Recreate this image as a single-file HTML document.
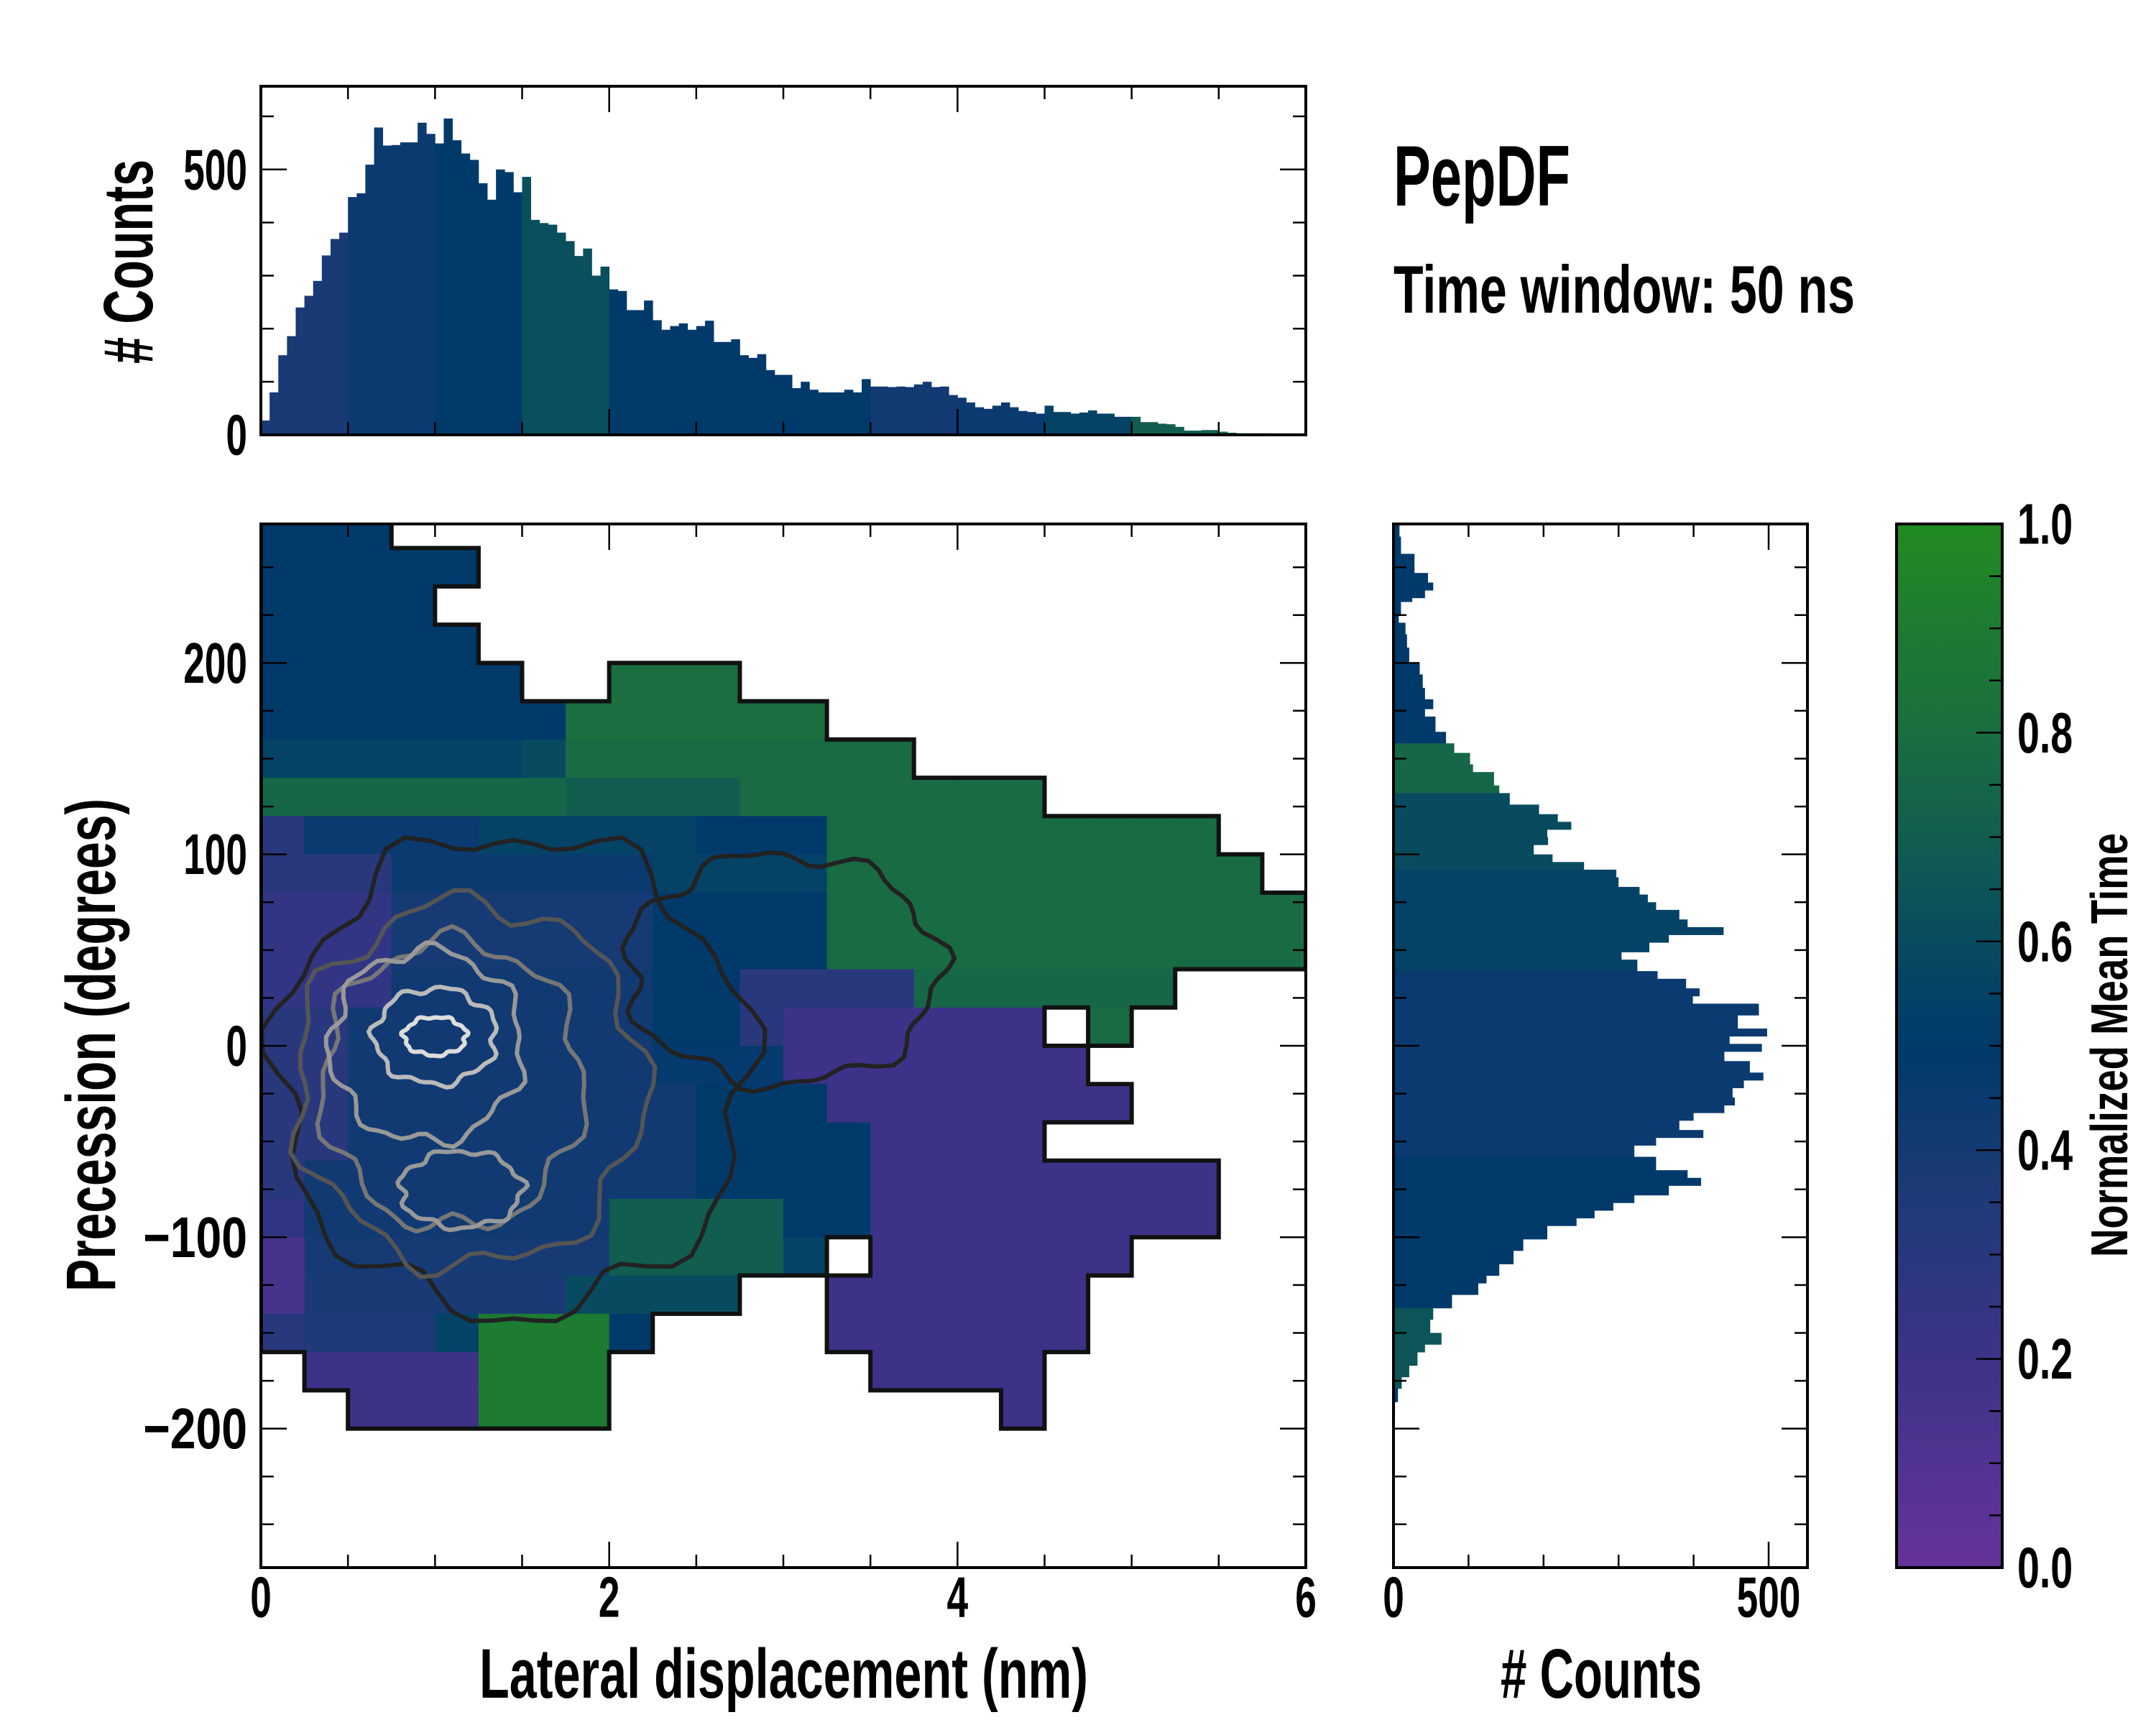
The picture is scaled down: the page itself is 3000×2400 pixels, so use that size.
<!DOCTYPE html>
<html><head><meta charset="utf-8"><title>PepDF</title>
<style>
html,body{margin:0;padding:0;background:#fff;}
svg{display:block;}
text{font-family:"Liberation Sans Narrow","Liberation Sans",sans-serif;font-weight:bold;fill:#000;}
</style></head>
<body>
<svg id="fig" xmlns="http://www.w3.org/2000/svg" width="3000" height="2400" viewBox="0 0 3000 2400">
<rect width="3000" height="2400" fill="#fff"/>
<defs>
<clipPath id="mainClip"><rect x="363" y="729" width="1454" height="1452"/></clipPath>
<linearGradient id="cbGrad" x1="0" y1="1" x2="0" y2="0">
<stop offset="0" stop-color="#663399"/><stop offset="0.2" stop-color="#3c3388"/><stop offset="0.35" stop-color="#1f3a78"/><stop offset="0.5" stop-color="#003a6b"/><stop offset="0.6" stop-color="#084b60"/><stop offset="0.7" stop-color="#115e50"/><stop offset="0.8" stop-color="#1a6e3f"/><stop offset="0.9" stop-color="#1d7b32"/><stop offset="1" stop-color="#228b22"/>
</linearGradient>
</defs>
<g id="topHist"></g>
<g id="heat" clip-path="url(#mainClip)"></g>
<g id="rightHist"></g>
<rect x="2639" y="729" width="147" height="1452" fill="url(#cbGrad)" stroke="#000" stroke-width="4"/>
<g id="axes"></g>
<text x="1939" y="286" font-size="120" textLength="246" lengthAdjust="spacingAndGlyphs">PepDF</text>
<text x="1939" y="435" font-size="94" textLength="642" lengthAdjust="spacingAndGlyphs">Time window: 50 ns</text>
<text x="667" y="2362" font-size="97" textLength="847" lengthAdjust="spacingAndGlyphs">Lateral displacement (nm)</text>
<text x="2088" y="2362" font-size="97" textLength="280" lengthAdjust="spacingAndGlyphs"># Counts</text>
<text transform="translate(160,1454) rotate(-90)" text-anchor="middle" font-size="97" textLength="686" lengthAdjust="spacingAndGlyphs">Precession (degrees)</text>
<text transform="translate(212,364) rotate(-90)" text-anchor="middle" font-size="97" textLength="284" lengthAdjust="spacingAndGlyphs"># Counts</text>
<text transform="translate(2960,1454) rotate(-90)" text-anchor="middle" font-size="72" textLength="590" lengthAdjust="spacingAndGlyphs">Normalized Mean Time</text>
</svg>
<script>
// ---------- data ----------
const _ = null;
const heatYTop = 280, heatYStep = 20, heatXStep = 0.25;
const heatRows = [
[.5,.5,.5,_,_,_,_,_,_,_,_,_,_,_,_,_,_,_,_,_,_,_,_,_],
[.5,.5,.5,.5,.5,_,_,_,_,_,_,_,_,_,_,_,_,_,_,_,_,_,_,_],
[.5,.5,.5,.5,_,_,_,_,_,_,_,_,_,_,_,_,_,_,_,_,_,_,_,_],
[.5,.5,.5,.5,.5,_,_,_,_,_,_,_,_,_,_,_,_,_,_,_,_,_,_,_],
[.5,.5,.5,.5,.5,.5,_,_,.8,.8,.8,_,_,_,_,_,_,_,_,_,_,_,_,_],
[.5,.5,.5,.5,.5,.5,.5,.8,.8,.8,.8,.8,.8,_,_,_,_,_,_,_,_,_,_,_],
[.55,.55,.55,.55,.55,.55,.6,.78,.78,.78,.78,.78,.78,.78,.78,_,_,_,_,_,_,_,_,_],
[.75,.75,.75,.75,.75,.75,.75,.7,.7,.7,.7,.78,.78,.78,.78,.78,.78,.78,_,_,_,_,_,_],
[.3,.45,.45,.45,.45,.55,.55,.55,.55,.55,.5,.5,.5,.78,.78,.78,.78,.78,.78,.78,.78,.78,_,_],
[.3,.3,.3,.45,.45,.45,.45,.45,.45,.55,.55,.55,.55,.78,.78,.78,.78,.78,.78,.78,.78,.78,.78,_],
[.25,.25,.25,.4,.4,.4,.4,.4,.4,.5,.5,.5,.5,.78,.78,.78,.78,.78,.78,.78,.78,.78,.78,.78],
[.25,.25,.25,.4,.4,.4,.4,.4,.4,.5,.5,.5,.5,.78,.78,.78,.78,.78,.78,.78,.78,.78,.78,.78],
[.25,.25,.25,.42,.42,.42,.42,.42,.42,.5,.5,.3,.3,.3,.3,.75,.75,.75,.75,.75,.75,_,_,_],
[.3,.3,.42,.42,.42,.42,.42,.42,.42,.5,.5,.3,.2,.2,.2,.2,.2,.2,_,.78,_,_,_,_],
[.3,.3,.42,.42,.42,.42,.42,.42,.42,.48,.48,.48,.2,.2,.2,.2,.2,.2,.2,_,_,_,_,_],
[.3,.3,.42,.42,.42,.42,.42,.42,.42,.42,.5,.5,.5,.2,.2,.2,.2,.2,.2,.2,_,_,_,_],
[.3,.3,.42,.42,.42,.42,.42,.42,.42,.42,.5,.5,.5,.5,.2,.2,.2,.2,_,_,_,_,_,_],
[.3,.42,.42,.42,.42,.42,.42,.42,.42,.42,.5,.5,.5,.5,.2,.2,.2,.2,.2,.2,.2,.2,_,_],
[.25,.42,.42,.42,.42,.42,.42,.42,.7,.7,.7,.7,.5,.5,.2,.2,.2,.2,.2,.2,.2,.2,_,_],
[.15,.4,.4,.4,.4,.4,.4,.4,.7,.7,.7,.7,.55,_,.2,.2,.2,.2,.2,.2,_,_,_,_],
[.15,.38,.38,.38,.38,.38,.38,.6,.6,.6,.6,_,_,.2,.2,.2,.2,.2,.2,_,_,_,_,_],
[.3,.35,.35,.35,.55,.9,.9,.9,.5,_,_,_,_,.2,.2,.2,.2,.2,.2,_,_,_,_,_],
[_,.2,.2,.2,.2,.9,.9,.9,_,_,_,_,_,_,.2,.2,.2,.2,_,_,_,_,_,_],
[_,_,.2,.2,.2,.9,.9,.9,_,_,_,_,_,_,_,_,_,.2,_,_,_,_,_,_]
];
const topBinWidth = 0.05;
const topCounts = [27,80,150,186,240,262,290,338,369,381,448,455,509,579,545,546,551,551,588,567,549,596,555,530,518,474,443,500,495,457,486,405,399,396,381,365,337,351,300,317,274,271,235,235,253,216,198,205,210,198,205,215,175,175,180,150,145,152,122,113,113,88,100,85,80,80,80,85,80,105,91,91,90,91,90,95,100,90,91,75,70,61,52,49,55,61,52,45,43,40,55,43,43,40,42,46,40,40,34,34,34,24,24,21,20,15,8,8,9,9,6,4,3,3,3,3,2,1,0,0];
const topTime = [0.38,0.45,0.5,0.62,0.5,0.5,0.5,0.42,0.45,0.55,0.7,0.75];
const rightEdges = [272,266,262,257,247,242,238,234,232,225,221,215,208,200,194,187,181,176,172,164,158,153,147,143,136,132,126,121,117,113,109,105,100,96,92,88,83,79,75,71,66,62,58,54,49,45,39,35,30,26,22,16,9,5,1,-3,-8,-14,-18,-22,-27,-31,-35,-39,-44,-48,-52,-58,-65,-69,-73,-78,-82,-86,-90,-94,-101,-107,-114,-120,-124,-130,-137,-143,-150,-156,-160,-167,-173,-179,-186,-192,-196];
const rightCounts = [8,10,10,28,46,53,42,25,10,7,16,18,21,35,39,42,53,42,56,70,81,102,106,134,141,155,194,219,237,205,206,187,212,254,297,300,328,339,350,381,392,440,367,341,304,325,352,390,408,399,487,459,498,448,491,441,475,493,467,452,455,441,400,381,413,350,321,350,392,410,367,321,293,268,244,205,173,160,141,124,113,78,53,49,64,42,32,21,11,6,2];
const rightBandTop = [273,160,130,90,40,-60,-140,-180];
const rightBandTime = [0.5,0.75,0.6,0.55,0.45,0.5,0.65,0.5];
const ringCx = [1.45,3.0,1.2,1.1,0.95,1.0,1.0,1.15];
const ringCy = [-15,40,-20,-20,0,5,5,-75];
const ringRx = [1.35,0.9,1.0,0.75,0.55,0.35,0.18,0.35];
const ringRy = [125,60,95,75,50,25,10,20];
const ringShade = ['#222','#222','#555','#777','#999','#bbb','#ddd','#999'];
const mainXTicks = [0,2,4,6];
const mainYTicks = [-200,-100,0,100,200];
const topYTicks = [0,500];
const rightXTicks = [0,500];
const cbTicks = [0.0,0.2,0.4,0.6,0.8,1.0];

// ---------- scales ----------
const M = {L:363,R:1817,T:729,B:2181};
const xS = v => M.L + (v-0)/(6-0)*(M.R-M.L);
const yS = d => (M.T+M.B)/2 - d*(M.B-M.T)/545.2;
const TH = {T:120,B:605};
const cS = c => TH.B - c*0.7385;
const RH = {L:1939,R:2515};
const rS = c => RH.L + c*1.044;
const CB = {L:2639,R:2786,T:729,B:2181};
const cbS = v => CB.B - v*(CB.B-CB.T);

const stops = [[0,[0x66,0x33,0x99]],[0.2,[0x3c,0x33,0x88]],[0.35,[0x1f,0x3a,0x78]],[0.5,[0x00,0x3a,0x6b]],[0.6,[0x08,0x4b,0x60]],[0.7,[0x11,0x5e,0x50]],[0.8,[0x1a,0x6e,0x3f]],[0.9,[0x1d,0x7b,0x32]],[1,[0x22,0x8b,0x22]]];
function cmap(t){
  t=Math.max(0,Math.min(1,t));
  for(let i=1;i<stops.length;i++){
    if(t<=stops[i][0]){
      const a=stops[i-1],b=stops[i],f=(t-a[0])/(b[0]-a[0]);
      const c=a[1].map((v,k)=>Math.round(v+(b[1][k]-v)*f));
      return 'rgb('+c.join(',')+')';
    }
  }
  return 'rgb(34,139,34)';
}
const NS='http://www.w3.org/2000/svg';
function mk(tag,attrs,parent){const e=document.createElementNS(NS,tag);for(const k in attrs)e.setAttribute(k,attrs[k]);parent.appendChild(e);return e;}

// ---------- heatmap ----------
const heat=document.getElementById('heat');
heatRows.forEach((row,r)=>{
  const d0=heatYTop-r*heatYStep, d1=d0-heatYStep;
  row.forEach((v,c)=>{
    if(v===null)return;
    const x0=xS(c*heatXStep), x1=xS((c+1)*heatXStep);
    const el=mk('rect',{x:x0,y:yS(d0),width:x1-x0+0.5,height:yS(d1)-yS(d0)+0.5,fill:cmap(v)},heat);
    
    
  });
});
for(let i=0;i<ringCx.length;i++){
  let pts=[];
  for(let k=0;k<=72;k++){
    const a=k/72*Math.PI*2, w=1+0.06*Math.sin(7*a+i)+0.04*Math.sin(13*a);
    pts.push(xS(ringCx[i]+ringRx[i]*w*Math.cos(a)).toFixed(1)+','+yS(ringCy[i]+ringRy[i]*w*Math.sin(a)).toFixed(1));
  }
  const el=mk('polyline',{points:pts.join(' '),fill:'none',stroke:ringShade[i],'stroke-width':6,'stroke-linejoin':'round'},heat);
  
  
}
const filled=(r,c)=>r>=0&&r<heatRows.length&&c>=0&&c<24&&heatRows[r][c]!==null;
let segs='';
heatRows.forEach((row,r)=>{
  const d0=heatYTop-r*heatYStep,d1=d0-heatYStep;
  row.forEach((v,c)=>{
    if(v===null)return;
    const x0=xS(c*heatXStep),x1=xS((c+1)*heatXStep),y0=yS(d0),y1=yS(d1);
    if(!filled(r-1,c))segs+=`M${x0},${y0}H${x1}`;
    if(!filled(r+1,c))segs+=`M${x0},${y1}H${x1}`;
    if(!filled(r,c-1))segs+=`M${x0},${y0}V${y1}`;
    if(!filled(r,c+1))segs+=`M${x1},${y0}V${y1}`;
  });
});
const outline=mk('path',{d:segs,fill:'none',stroke:'#111','stroke-width':6,'stroke-linecap':'square'},heat);



// ---------- top histogram ----------
const th=document.getElementById('topHist');
topCounts.forEach((c,i)=>{
  if(c<=0)return;
  const x0=xS(i*topBinWidth),x1=xS((i+1)*topBinWidth);
  const t=topTime[Math.min(topTime.length-1,Math.floor(i*topBinWidth/0.5))];
  const el=mk('rect',{x:x0,y:cS(c),width:x1-x0+0.4,height:TH.B-cS(c),fill:cmap(t)},th);
  
  
});

// ---------- right histogram ----------
const rh=document.getElementById('rightHist');
rightCounts.forEach((c,i)=>{
  const dTop=rightEdges[i], dBot=rightEdges[i+1];
  const mid=(dTop+dBot)/2;
  let t=rightBandTime[0];
  for(let k=0;k<rightBandTop.length;k++){if(mid<=rightBandTop[k])t=rightBandTime[k];}
  const el=mk('rect',{x:RH.L,y:yS(dTop),width:rS(c)-RH.L,height:yS(dBot)-yS(dTop)+0.4,fill:cmap(t)},rh);
  
  
});

// ---------- axes & ticks ----------
const ax=document.getElementById('axes');
function frame(L,T,R,B,name){
  const el=mk('rect',{x:L,y:T,width:R-L,height:B-T,fill:'none',stroke:'#000','stroke-width':4},ax);
  
  
}
function tick(x1,y1,x2,y2){mk('line',{x1,y1,x2,y2,stroke:'#000','stroke-width':2.5},ax);}
function txtWidth(s){let w=0;for(const ch of s){w+= ch==='\u2212'?56:(ch==='.'?18:29.6);}return w;}
function label(txt,x,y,anchor,name){
  const el=mk('text',{x,y,'text-anchor':anchor,'font-size':80,'dominant-baseline':'central',textLength:txtWidth(txt),lengthAdjust:'spacingAndGlyphs'},ax);
  el.textContent=txt;
  
  
}
frame(M.L,M.T,M.R,M.B,'main-plot-frame');
frame(M.L,TH.T,M.R,TH.B,'top-hist-frame');
frame(RH.L,M.T,RH.R,M.B,'right-hist-frame');
const fmt=v=>v<0?'\u2212'+Math.abs(v):String(v);
for(let v=0;v<=6.001;v+=0.5){
  const x=xS(v), major=Math.abs(v/2-Math.round(v/2))<1e-6, len=major?36:18;
  tick(x,M.B,x,M.B-len);tick(x,M.T,x,M.T+len);
  tick(x,TH.B,x,TH.B-len);tick(x,TH.T,x,TH.T+len);
}
mainXTicks.forEach(v=>label(String(v),xS(v),2222,'middle','x-tick-label'));
for(let d=-250;d<=250;d+=25){
  const y=yS(d), major=d%100===0, len=major?36:18;
  tick(M.L,y,M.L+len,y);tick(M.R,y,M.R-len,y);
  tick(RH.L,y,RH.L+len,y);tick(RH.R,y,RH.R-len,y);
}
mainYTicks.forEach(v=>label(fmt(v),344,yS(v),'end','y-tick-label'));
for(let c=0;c<=600;c+=100){
  const y=cS(c), major=c%500===0, len=major?36:18;
  tick(M.L,y,M.L+len,y);tick(M.R,y,M.R-len,y);
}
topYTicks.forEach(v=>label(String(v),344,cS(v),'end','top-hist-y-tick-label'));
for(let c=0;c<=500;c+=100){
  const x=rS(c), major=c%500===0, len=major?36:18;
  tick(x,M.B,x,M.B-len);tick(x,M.T,x,M.T+len);
}
rightXTicks.forEach(v=>label(String(v),rS(v),2222,'middle','right-hist-x-tick-label'));
for(let k=0;k<=20;k++){
  const v=k/20, y=cbS(v), major=k%4===0, len=major?36:18;
  tick(CB.R,y,CB.R-len,y);
}
cbTicks.forEach(v=>label(v.toFixed(1),2807,cbS(v),'start','colorbar-tick-label'));
</script>
</body></html>
